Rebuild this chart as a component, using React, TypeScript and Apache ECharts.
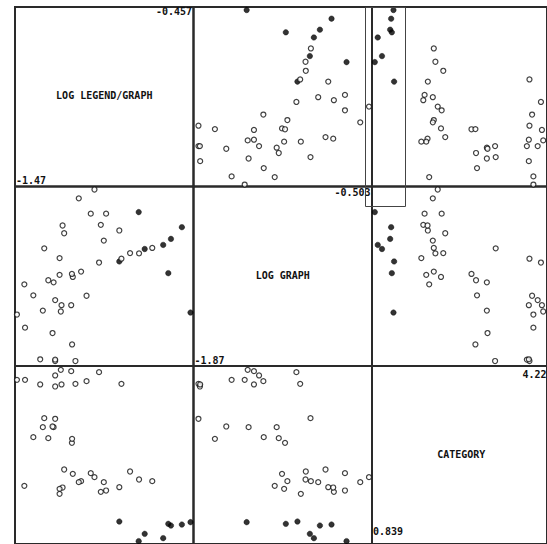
import { useEffect, useRef } from "react";
import * as echarts from "echarts";

// Variables of the scatterplot matrix
const varNames = ["LOG LEGEND/GRAPH", "LOG GRAPH", "CATEGORY"];
const varMin = [-1.47, -1.87, 0.839];
const varMax = [-0.457, -0.503, 4.22];
const minLabels = ["-1.47", "-1.87", "0.839"];
const maxLabels = ["-0.457", "-0.503", "4.22"];

// Observations (one entry per observation, same order in every array)
const logLegendGraph = [
  -0.474, -0.523, -0.585, -0.6, -0.629, -0.734, -0.768, -0.878,
  -0.691, -0.766, -0.817, -0.878, -0.953, -0.966, -0.983, -1.019, -1.04, -1.095, -1.108, -1.142, -1.191, -1.2, -1.217, -1.217, -1.417,
  -1.147, -1.146, -1.251, -1.257, -1.281, -1.304, -1.312, -1.242, -1.366,
  -0.866, -0.993, -1.064, -1.127, -1.151, -1.206, -1.21, -1.242, -1.242, -1.327, -1.413, -1.459,
];
const logGraph = [
  -1.463, -0.813, -0.902, -1.163, -0.948, -0.979, -0.698, -1.074,
  -0.971, -1.012, -1.01, -0.838, -0.71, -0.915, -0.795, -0.526, -0.71, -1.151, -0.593, -1.192, -0.859, -0.8, -1.176, -1.048, -1.248,
  -1.169, -1.706, -1.233, -1.619, -1.217, -0.974, -1.448, -1.832, -1.332,
  -1.053, -1.082, -1.335, -1.832, -1.407, -1.407, -1.455, -1.368, -1.821, -1.819, -1.578, -1.478,
];
const category = [
  1.254, 1.209, 1.19, 1.222, 0.95, 1.032, 0.893, 1.266,
  2.033, 2.064, 2.216, 1.918, 1.855, 2.014, 1.83, 2.109, 2.185, 2.033, 2.014, 2.172, 2.254, 1.912, 1.887, 1.792, 1.944,
  2.761, 2.837, 3.058, 3.071, 2.849, 3.229, 3.058, 3.217, 2.868,
  3.881, 4.103, 3.932, 3.881, 4.122, 3.869, 4.147, 4.04, 3.831, 3.869, 3.957, 3.957,
];

// Brush on CATEGORY: observations below this value are highlighted
const brushCategoryMax = 1.47;

export default function App() {
  const ref = useRef<HTMLDivElement>(null);

  useEffect(() => {
    if (!ref.current) return;
    const chart = echarts.init(ref.current, null, { renderer: "svg" });
    const vars = [logLegendGraph, logGraph, category];
    const colX = [15, 193.5, 372];
    const rowY = [7, 186.5, 366];
    const cellW = 178.5;
    const cellH = 179.5;
    const font = 'bold 10px "DejaVu Sans Mono", monospace';

    const grids: any[] = [];
    const xAxes: any[] = [];
    const yAxes: any[] = [];
    const series: any[] = [];

    for (let i = 0; i < 3; i++) {
      for (let j = 0; j < 3; j++) {
        const idx = i * 3 + j;
        grids.push({
          left: colX[j],
          top: rowY[i],
          width: cellW,
          height: cellH,
          show: true,
          borderColor: "#2a2a2a",
          borderWidth: 2,
          backgroundColor: "transparent",
        });
        xAxes.push({ type: "value", gridIndex: idx, min: varMin[j], max: varMax[j], show: false });
        yAxes.push({ type: "value", gridIndex: idx, min: varMin[i], max: varMax[i], show: false });
        if (i === j) continue;
        const data = category.map((_, k) => {
          const sel = category[k] < brushCategoryMax;
          return {
            value: [vars[j][k], vars[i][k]],
            symbolSize: sel ? 5.5 : 5,
            itemStyle: sel
              ? { color: "#000", borderColor: "#000", borderWidth: 0.5 }
              : { color: "#fff", borderColor: "#111", borderWidth: 1.2 },
          };
        });
        series.push({
          type: "scatter",
          xAxisIndex: idx,
          yAxisIndex: idx,
          symbol: "circle",
          clip: false,
          silent: true,
          z: 3,
          data,
        });
      }
    }

    const graphics: any[] = [];
    const maxLabelX = [colX[0] + cellW - 1.5, colX[1] + cellW - 1.5, 546.5];
    const maxLabelY = [11.5, 192.5, 374];
    const minLabelY = [180.5, 360.5, 531];
    for (let d = 0; d < 3; d++) {
      graphics.push({
        type: "text",
        x: colX[d] + cellW / 2,
        y: rowY[d] + cellH / 2 - 1,
        style: { text: varNames[d], font, fill: "#111", align: "center", verticalAlign: "middle" },
        silent: true,
      });
      graphics.push({
        type: "text",
        x: maxLabelX[d],
        y: maxLabelY[d],
        style: { text: maxLabels[d], font, fill: "#111", align: "right", verticalAlign: "middle" },
        silent: true,
      });
      graphics.push({
        type: "text",
        x: colX[d] + 1,
        y: minLabelY[d],
        style: { text: minLabels[d], font, fill: "#111", align: "left", verticalAlign: "middle" },
        silent: true,
      });
    }
    // brush rectangle
    graphics.push({
      type: "rect",
      shape: { x: 365.5, y: 7.5, width: 40, height: 199 },
      style: { fill: "none", stroke: "#444", lineWidth: 1 },
      silent: true,
      z: 10,
    });

    chart.setOption({
      animation: false,
      backgroundColor: "#fff",
      grid: grids,
      xAxis: xAxes,
      yAxis: yAxes,
      series,
      graphic: graphics,
    });

    return () => chart.dispose();
  }, []);

  return (
    <div
      ref={ref}
      style={{ position: "absolute", left: 0, top: 0, width: 547, height: 544 }}
    />
  );
}
